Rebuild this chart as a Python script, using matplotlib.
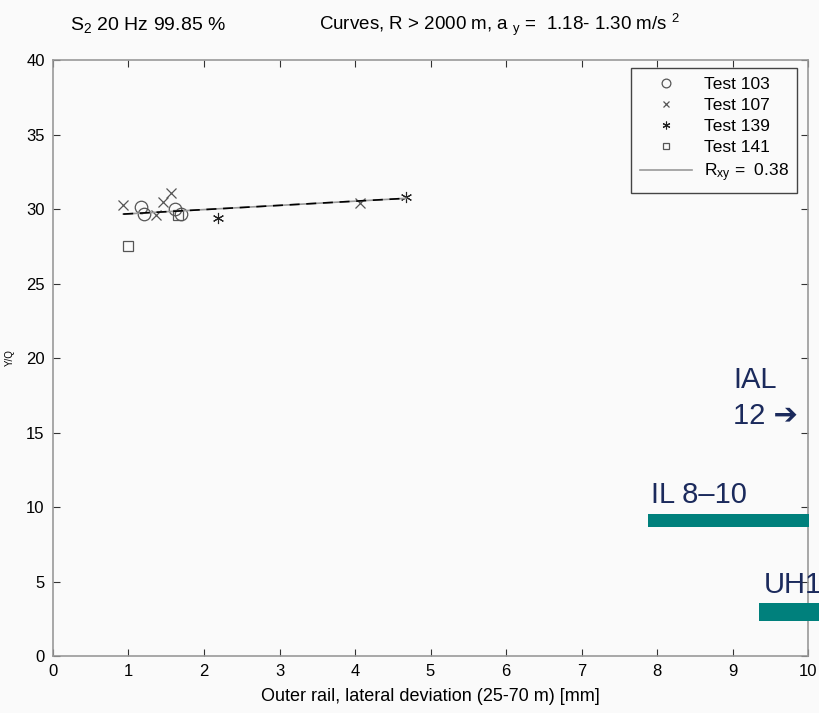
import numpy as np
import matplotlib.pyplot as plt
from matplotlib import font_manager

# pick a narrow Helvetica-like face if it's there
names = {f.name for f in font_manager.fontManager.ttflist}
narrow = "Liberation Sans Narrow" if "Liberation Sans Narrow" in names else "Liberation Sans"
plt.rcParams["font.family"] = [narrow, "DejaVu Sans"]
plt.rcParams["mathtext.fontset"] = "custom"
plt.rcParams["mathtext.rm"] = narrow
plt.rcParams["mathtext.it"] = narrow

# measured points per test run
t103_x = [1.16, 1.20, 1.62, 1.70]
t103_y = [30.15, 29.7, 30.0, 29.66]
t107_x = [0.93, 1.37, 1.46, 1.56, 4.07]
t107_y = [30.3, 29.6, 30.5, 31.05, 30.4]
t139_x = [2.19, 4.68]
t139_y = [29.4, 30.8]
t141_x = [0.99, 1.66]
t141_y = [27.5, 29.6]

# regression line end points
fit_x = [0.93, 4.68]
fit_y = [29.66, 30.72]
r_xy = 0.38

# limit bands drawn over the right edge
band_names = ["IL 8\u201310", "UH1"]
band_left = [7.88, 9.35]
band_right = [10.01, 11.5]
band_y = [9.1, 2.95]
band_h = [0.87, 1.25]

fig = plt.figure(figsize=(8.19, 7.13), dpi=100, facecolor="#fafafa")
ax = fig.add_axes([0.0647, 0.0799, 0.9219, 0.8359], facecolor="#fafafa")

mk = "#555555"
star = (6, 2, 0)  # asterisk made of spokes
ax.plot(t103_x, t103_y, "o", mfc="none", mec=mk, ms=9, mew=0.9, label="Test 103")
ax.plot(t107_x, t107_y, "x", color=mk, ms=7, mew=0.9, label="Test 107")
ax.plot(t139_x, t139_y, marker=star, ls="none", color="#222222", ms=8, mew=0.8,
        label="Test 139")
ax.plot(t141_x, t141_y, "s", mfc="none", mec=mk, ms=7, mew=0.9, label="Test 141")
ax.plot(fit_x, fit_y, "-", color="#999999", lw=1.2,
        label=r"$\mathregular{R_{xy}}$ =  %.2f" % r_xy)
ax.plot(fit_x, fit_y, "--", color="black", lw=1.2, dashes=(6, 4))

ax.set_xlim(0, 10)
ax.set_ylim(0, 40)
ax.set_xticks(range(0, 11))
ax.set_yticks(range(0, 41, 5))
ax.tick_params(direction="in", length=5, top=True, right=True,
               labelsize=12, color="#333333", pad=6)
for s in ax.spines.values():
    s.set_color("#999999")
    s.set_linewidth(1.2)

ax.set_xlabel("Outer rail, lateral deviation (25-70 m) [mm]", fontsize=13, labelpad=6)
ax.set_ylabel("Y/Q", fontsize=7)
ax.yaxis.set_label_coords(-0.05, 0.5)

leg = ax.legend(loc="upper right", bbox_to_anchor=(0.986, 0.987), borderaxespad=0,
                fontsize=12.5, frameon=True, fancybox=False, handlelength=3.0,
                handletextpad=0.7, labelspacing=0.35, borderpad=0.5, markerscale=0.7)
leg.get_frame().set_edgecolor("#444444")
leg.get_frame().set_linewidth(1.0)
leg.get_frame().set_facecolor("#fafafa")
leg.get_frame().set_alpha(1)

fig.text(0.086, 0.958, r"$\mathregular{S_2}$ 20 Hz 99.85 %", fontsize=14)
fig.text(0.39, 0.958,
         r"Curves, R > 2000 m, a $\mathregular{_y}$ =  1.18- 1.30 m/s $\mathregular{^2}$",
         fontsize=13.5)

# overlay: limit bands and labels
navy = "#1b2a5c"
teal = "#00807c"
for name, l, r, y, h in zip(band_names, band_left, band_right, band_y, band_h):
    ax.barh(y, r - l, left=l, height=h, color=teal, clip_on=False, zorder=5)
ax.text(7.92, 10.27, band_names[0], fontsize=21, color=navy, family="Liberation Sans",
        clip_on=False)
ax.text(9.42, 4.23, band_names[1], fontsize=21, color=navy, family="Liberation Sans",
        clip_on=False)
ax.text(9.30, 18.0, "IAL", fontsize=21, color=navy, family="Liberation Sans",
        ha="center", clip_on=False)
ax.text(9.86, 15.55, "12 \u2794", fontsize=21, color=navy,
        family=["Liberation Sans", "DejaVu Sans"], ha="right", clip_on=False)

fig.savefig("out.png", dpi=100, facecolor=fig.get_facecolor())
